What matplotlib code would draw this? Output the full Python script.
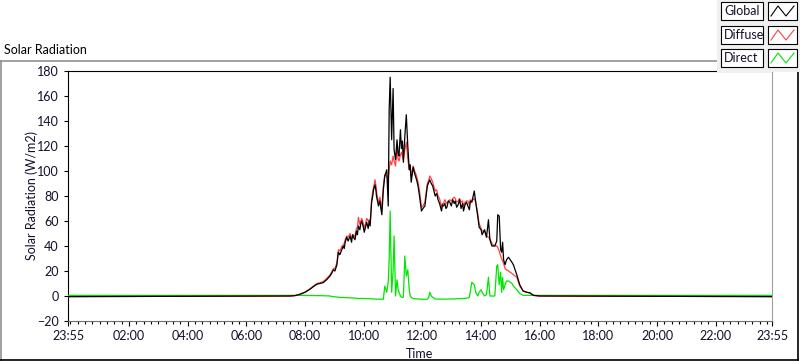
import matplotlib
matplotlib.use("Agg")

import numpy as np
import matplotlib.pyplot as plt
from matplotlib.lines import Line2D
from matplotlib.patches import Rectangle
from matplotlib.ticker import FixedLocator

plt.rcParams['font.family'] = ['Lato', 'DejaVu Sans']

# === data ===
times = ["07:30", "07:39", "07:50", "08:00", "08:10", "08:17", "08:24", "08:30", "08:37", "08:44",
         "08:51", "08:54", "08:58", "09:01", "09:05", "09:08", "09:11", "09:15", "09:18", "09:20",
         "09:22", "09:25", "09:28", "09:32", "09:35", "09:37", "09:39", "09:42", "09:45", "09:47",
         "09:49", "09:52", "09:54", "09:56", "09:59", "10:01", "10:04", "10:06", "10:09", "10:11",
         "10:13", "10:16", "10:18", "10:20", "10:23", "10:25", "10:26", "10:28", "10:30", "10:33",
         "10:35", "10:37", "10:40", "10:43", "10:47", "10:50", "10:52", "10:54", "10:57", "11:00",
         "11:02", "11:05", "11:08", "11:10", "11:12", "11:15", "11:17", "11:19", "11:21", "11:24",
         "11:27", "11:30", "11:33", "11:35", "11:37", "11:41", "11:44", "11:48", "11:51", "11:54",
         "11:58", "12:01", "12:05", "12:10", "12:13", "12:15", "12:18", "12:21", "12:26", "12:29",
         "12:32", "12:35", "12:39", "12:41", "12:43", "12:46", "12:48", "12:50", "12:53", "12:56",
         "12:59", "13:02", "13:05", "13:07", "13:10", "13:13", "13:16", "13:19", "13:22", "13:24",
         "13:27", "13:30", "13:33", "13:36", "13:38", "13:41", "13:46", "13:49", "13:53", "13:56",
         "14:00", "14:02", "14:07", "14:11", "14:15", "14:18", "14:22", "14:28", "14:32", "14:34",
         "14:37", "14:40", "14:42", "14:44", "14:46", "14:49", "14:52", "14:56", "15:03", "15:06",
         "15:13", "15:19", "15:26", "15:33", "15:40", "15:47", "16:00"]

global_rad = [0, 0.3, 1.4, 3, 5.4, 7.5, 9.4, 10, 10.7, 13,
              16, 18, 21, 20, 25, 35, 33, 37, 40, 38,
              43, 47, 44, 48, 43, 49, 47, 45, 52, 49,
              56, 53, 58, 60, 55, 51, 56, 59, 54, 60,
              56, 75, 79, 85, 89, 84, 80, 76, 72, 76,
              70, 65, 85, 96, 101, 72, 150, 175, 125, 166,
              117, 109, 125, 115, 112, 133, 118, 124, 107, 128,
              145, 120, 101, 105, 91, 103, 98, 93, 88, 80,
              68, 70, 72, 88, 91, 93, 90, 88, 80, 82,
              77, 74, 68, 73, 72, 74, 70, 71, 76, 75,
              72, 77, 74, 76, 71, 73, 77, 70, 74, 68,
              73, 75, 72, 69, 76, 75, 84, 75, 64, 55,
              53, 49, 53, 47, 61, 45, 40, 40, 44, 65,
              64, 37, 35, 43, 29, 25, 29, 31, 27, 25,
              17, 9, 4, 3, 2.5, 0.5, 0]

diffuse_rad = [0, 0.3, 1.6, 3.2, 5.8, 8, 10, 10.5, 11.5, 14,
               17, 19, 22, 22, 26.5, 37, 36, 39.5, 41, 42,
               45, 48, 47, 50, 46, 47, 49, 47.5, 54, 55,
               63, 57, 60, 62, 58, 54, 59, 62, 60, 61,
               58, 77, 83, 87, 93, 88, 84, 78, 75, 79,
               74, 70, 88, 97, 96, 93, 101, 108, 105, 112,
               108, 104, 118, 110, 108, 113, 115, 112, 109, 117,
               123, 110, 101, 103, 96, 104, 100, 96, 91, 84,
               71, 72, 75, 90, 93, 96, 94, 91, 84, 85,
               80, 78, 71, 74, 74, 77, 75, 74, 76, 77,
               76, 78, 79, 78, 75, 76, 78, 75, 76, 72,
               75, 76, 76, 73, 77, 76, 78, 75, 66, 58,
               54, 52, 52, 48, 47, 46, 42, 40, 40, 39,
               36, 32, 30, 28, 26, 22, 21, 20, 18, 17,
               15, 8, 4, 3, 2.5, 0.5, 0]

direct_rad = [0.5, 0.5, 0.5, 0.5, 0.4, 0.4, 0.3, 0.3, 0.2, 0.1,
              0, -0.3, -0.5, -0.6, -0.8, -1, -1.1, -1.2, -1.2, -1.3,
              -1.3, -1.3, -1.4, -1.5, -1.5, -1.5, -1.6, -1.8, -1.8, -1.9,
              -2, -2, -2, -2, -2, -2, -2, -2.1, -2.1, -2.2,
              -2.2, -2.3, -2.3, -2.4, -2.4, -2.5, -2.5, -2.5, -2.5, -2.6,
              -2.6, -2.6, -2.6, 8, 3, 11, 30, 68, 3, 20,
              48, 0, 13, 6, 3, 0, -1, -1, -1, 32,
              16, 21, 5, 0, -1, -2, -2.2, -2.3, -2.4, -2.5,
              -2.6, -2.6, -2.6, -2.6, -1, 3, 0, -1, -2.4, -2.4,
              -2.5, -2.5, -2.5, -2.5, -2.5, -2.5, -2.5, -2.5, -2.4, -2.4,
              -2.4, -2.3, -2.3, -2.3, -2.2, -2.2, -2.1, -2.1, -2, -2,
              -1.9, -1.8, -1.5, -1, 4, 11, 9, 3, 0, 3,
              5, 3, 0, 1, 15, 0, 0, 0, 24, 25,
              9, 19, 3, 15, 5, 9, 12, 12, 10, 8,
              5, 2, 0.5, 0.5, 0.5, 0.5, 0.5]

# night level at start (23:55 day before) and end (23:55)
night_global = -0.5
night_direct = 0.5

x_tick_labels = ["23:55", "02:00", "04:00", "06:00", "08:00", "10:00", "12:00",
                 "14:00", "16:00", "18:00", "20:00", "22:00", "23:55"]
y_ticks = [-20, 0, 20, 40, 60, 80, 100, 120, 140, 160, 180]


def to_min(s):
    h, m = s.split(":")
    return int(h) * 60 + int(m)


t = np.array([-5] + [to_min(s) for s in times] + [1435])
g = np.array([night_global] + global_rad + [night_global])
d = np.array([night_global] + diffuse_rad + [night_global])
r = np.array([night_direct] + direct_rad + [night_direct])

major_pos = [-5] + [to_min(s) for s in x_tick_labels[1:-1]] + [1435]

# === figure ===
W, H = 800, 361
fig = plt.figure(figsize=(W / 100, H / 100), dpi=100)
fig.patch.set_facecolor("white")


def fx(x):
    return x / W


def fy(y):
    return 1 - y / H


ax = fig.add_axes([fx(68), fy(321), fx(772) - fx(68), fy(71) - fy(321)])
ax.plot(t, r, color="#00e600", lw=0.9, zorder=3)
ax.plot(t, d, color="#ff4040", lw=0.9, zorder=4)
ax.plot(t, g, color="black", lw=0.9, zorder=5)

ax.set_xlim(-5, 1435)
ax.set_ylim(-20, 180)
ax.xaxis.set_major_locator(FixedLocator(major_pos))
ax.set_xticklabels(x_tick_labels)
ax.xaxis.set_minor_locator(FixedLocator(np.arange(0, 1435, 15)))
ax.set_yticks(y_ticks)

txt_col = "#10102a"
ax.tick_params(axis="y", direction="out", length=3.2, width=0.8, pad=3.5,
               labelsize=9, colors="black", labelcolor=txt_col)
ax.tick_params(axis="x", which="major", direction="out", length=3.8, width=0.8,
               pad=2.5, labelsize=9, colors="black", labelcolor=txt_col)
ax.tick_params(axis="x", which="minor", direction="out", length=2.2, width=0.8,
               colors="black")

ax.spines["left"].set_color("black")
ax.spines["top"].set_color("black")
ax.spines["right"].set_color("#a0a0a0")
ax.spines["bottom"].set_color("#707070")
for s in ax.spines.values():
    s.set_linewidth(0.8)

ax.set_ylabel("Solar Radiation (W/m2)", fontsize=9, color=txt_col, va="center")
ax.yaxis.set_label_coords((32 - 68) / 704, 0.5)
ax.set_xlabel("Time", fontsize=9, color=txt_col, va="center")
ax.xaxis.set_label_coords(0.5, (321 - 354) / 250)

# title of the graph control
fig.text(fx(4), fy(50), "Solar Radiation", fontsize=9, color="black",
         ha="left", va="center")

# outer frame (sunken look)
fig.add_artist(Line2D([fx(0), fx(718)], [fy(61), fy(61)], color="#909090", lw=1.2))
fig.add_artist(Line2D([fx(0.6), fx(0.6)], [fy(61), fy(360)], color="#909090", lw=1.2))
fig.add_artist(Line2D([fx(0), fx(798)], [fy(360), fy(360)], color="black", lw=1.2))
fig.add_artist(Line2D([fx(797.5), fx(797.5)], [fy(72), fy(360)], color="black", lw=1.2))

# legend panel
fig.add_artist(Rectangle((fx(717), fy(72)), fx(800) - fx(717), fy(0) - fy(72),
                         transform=fig.transFigure, facecolor="#f0f0f0",
                         edgecolor="none", zorder=10))
leg_names = ["Global", "Diffuse", "Direct"]
leg_cols = ["black", "#ff4040", "#00e600"]
row_tops = [2, 26, 49]
for name, col, top in zip(leg_names, leg_cols, row_tops):
    bot = top + 18
    fig.add_artist(Rectangle((fx(721), fy(bot)), fx(763) - fx(721), fy(top) - fy(bot),
                             transform=fig.transFigure, facecolor="white",
                             edgecolor="black", lw=0.8, zorder=11))
    fig.text(fx(724), fy(top + 9), name, fontsize=9, color=txt_col,
             ha="left", va="center", zorder=12)
    fig.add_artist(Rectangle((fx(768), fy(bot)), fx(797) - fx(768), fy(top) - fy(bot),
                             transform=fig.transFigure, facecolor="white",
                             edgecolor="black", lw=0.8, zorder=11))
    zx = [771, 778, 786, 794]
    zy = [bot - 4, top + 4, bot - 4, top + 4]
    fig.add_artist(Line2D([fx(v) for v in zx], [fy(v) for v in zy],
                          color=col, lw=0.8, zorder=12))

plt.savefig("out.png", dpi=100)
plt.close()
